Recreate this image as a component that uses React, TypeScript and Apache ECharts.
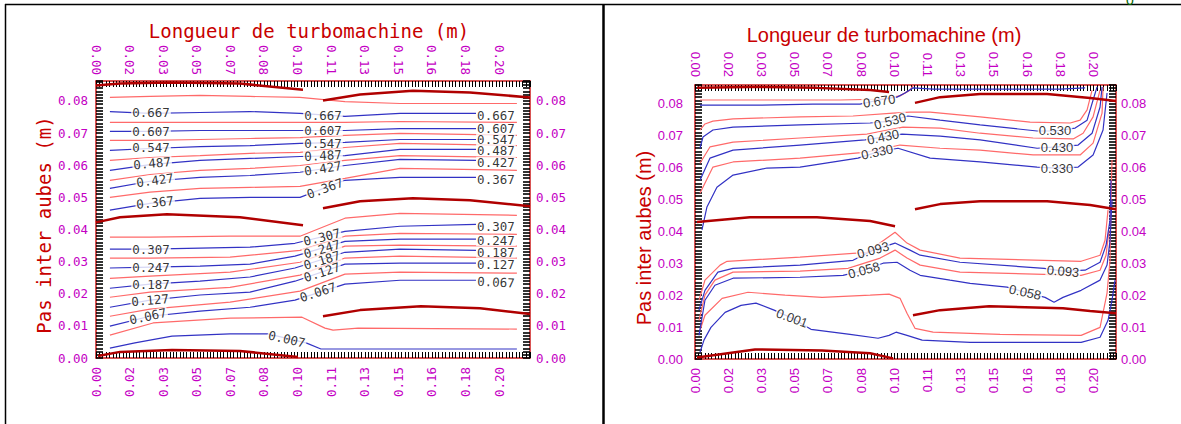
import React, { useEffect, useRef } from "react";
import * as echarts from "echarts";

// ---------- axes ----------
const X_TICK_LABELS = ["0.00", "0.02", "0.03", "0.05", "0.07", "0.08", "0.10", "0.11", "0.13", "0.15", "0.16", "0.18", "0.20"];
const Y_TICK_LABELS = ["0.00", "0.01", "0.02", "0.03", "0.04", "0.05", "0.06", "0.07", "0.08"];
const X_STEP = 1 / 60;
const Y_STEP = 0.01;
const LEFT_X_MAX = 0.2153;
const LEFT_Y_MAX = 0.0862;
const RIGHT_X_MAX = 0.2113;
const RIGHT_Y_MAX = 0.0858;

const TITLE_X = "Longueur de turbomachine (m)";
const TITLE_Y = "Pas inter aubes (m)";

// ---------- left panel : upper passage ----------
const L_UP_X_BLUE = [0.0069, 0.0268, 0.0516, 0.0764, 0.1012, 0.1235, 0.1508, 0.1885];
const L_B667 = [0.0767, 0.0761, 0.0764, 0.0767, 0.0761, 0.0752, 0.0761, 0.0761];
const L_B607 = [0.0705, 0.0705, 0.0708, 0.0708, 0.0708, 0.0708, 0.0714, 0.0714];
const L_B547 = [0.0646, 0.0652, 0.0658, 0.0661, 0.0668, 0.0671, 0.068, 0.068];
const L_B487 = [0.0584, 0.0602, 0.0615, 0.0621, 0.0627, 0.063, 0.0649, 0.0649];
const L_B427 = [0.0528, 0.055, 0.0562, 0.0568, 0.0578, 0.0599, 0.0618, 0.0615];
const L_B367 = [0.046, 0.0481, 0.0497, 0.05, 0.05, 0.0553, 0.0562, 0.0562];

const L_UP_X_RED = [0.0069, 0.0268, 0.0516, 0.0764, 0.1012, 0.1235, 0.1508, 0.2088];
const L_R1 = [0.0811, 0.0814, 0.0817, 0.0814, 0.0811, 0.0798, 0.0792, 0.0792];
const L_R2 = [0.0733, 0.0733, 0.0733, 0.0733, 0.0733, 0.0733, 0.0736, 0.0733];
const L_R3 = [0.0677, 0.0677, 0.068, 0.0683, 0.0686, 0.0693, 0.0699, 0.0693];
const L_R4 = [0.0615, 0.0624, 0.063, 0.0637, 0.064, 0.0655, 0.0668, 0.0661];
const L_R5 = [0.0553, 0.0571, 0.0584, 0.059, 0.0599, 0.0615, 0.063, 0.0624];
const L_R6 = [0.05, 0.0516, 0.0528, 0.0531, 0.0534, 0.0559, 0.059, 0.0584];

// ---------- left panel : lower passage ----------
const L_LO_X_BLUE = [0.0069, 0.0268, 0.0516, 0.0764, 0.0987, 0.1235, 0.1508, 0.1885];
const L_B307 = [0.0339, 0.0339, 0.0342, 0.0345, 0.0357, 0.0394, 0.041, 0.0416];
const L_B247 = [0.028, 0.0283, 0.0286, 0.0292, 0.0317, 0.0363, 0.037, 0.037];
const L_B187 = [0.0217, 0.023, 0.0239, 0.0252, 0.028, 0.0329, 0.0339, 0.0335];
const L_B127 = [0.0158, 0.018, 0.0196, 0.0205, 0.0239, 0.0292, 0.0295, 0.0295];
const L_B067 = [0.0099, 0.013, 0.0146, 0.0158, 0.018, 0.023, 0.0242, 0.0242];
const L_B007 = [[0.0069, 0.0031], [0.0193, 0.0047], [0.0377, 0.0068], [0.0665, 0.0075], [0.0853, 0.0075], [0.1042, 0.0047], [0.1116, 0.0028], [0.1235, 0.0028], [0.1508, 0.0028], [0.2088, 0.0028]];

const L_LO_X_RED = [0.0069, 0.0268, 0.0665, 0.1012, 0.1235, 0.1508, 0.2088];
const L_RA = [0.0376, 0.0376, 0.0379, 0.0379, 0.0435, 0.045, 0.0444];
const L_RB = [0.0311, 0.0311, 0.0314, 0.0335, 0.0379, 0.0388, 0.0385];
const L_RC = [0.0248, 0.0255, 0.0267, 0.0298, 0.0348, 0.0351, 0.0348];
const L_RD = [0.0189, 0.0205, 0.022, 0.0258, 0.0311, 0.0317, 0.0311];
const L_RE = [0.013, 0.0152, 0.0174, 0.0208, 0.0261, 0.0267, 0.0264];
const L_RF = [[0.0069, 0.0071], [0.0283, 0.0109], [0.0665, 0.0124], [0.1022, 0.0127], [0.1136, 0.0093], [0.1176, 0.0087], [0.13, 0.0093], [0.2088, 0.009]];

// ---------- left panel : blades ----------
const L_BL1_TOP = [[0, 0.0848], [0.0119, 0.0854], [0.0367, 0.0857], [0.0714, 0.0854], [0.1027, 0.0835]];
const L_BL1_MID = [[0, 0.0422], [0.0119, 0.0438], [0.0352, 0.0447], [0.0714, 0.0438], [0.1027, 0.0413]];
const L_BL1_BOT = [[0.001, 0.0006], [0.0119, 0.0019], [0.0377, 0.0025], [0.0714, 0.0022], [0.1002, 0.0003]];
const L_BL2_TOP = [[0.1126, 0.0801], [0.131, 0.082], [0.1572, 0.0832], [0.1855, 0.0826], [0.2153, 0.0811]];
const L_BL2_MID = [[0.1126, 0.0466], [0.131, 0.0488], [0.1572, 0.0497], [0.1855, 0.0491], [0.2153, 0.0472]];
const L_BL2_BOT = [[0.1126, 0.013], [0.131, 0.0149], [0.1612, 0.0161], [0.1905, 0.0155], [0.2153, 0.0137]];

// ---------- left panel : contour labels [text, x, y, rotation] ----------
const L_LABELS: [string, number, number, number][] = [
  ["0.667", 0.0273, 0.0764, 0], ["0.667", 0.1126, 0.0755, 0], ["0.667", 0.1984, 0.0755, 0],
  ["0.607", 0.0273, 0.0705, 0], ["0.607", 0.1126, 0.0708, 0], ["0.607", 0.1984, 0.0714, 0],
  ["0.547", 0.0273, 0.0655, 0], ["0.547", 0.1126, 0.0668, 0], ["0.547", 0.1984, 0.068, 0],
  ["0.487", 0.0278, 0.0606, 5], ["0.487", 0.1126, 0.063, 3], ["0.487", 0.1984, 0.0646, 0],
  ["0.427", 0.0293, 0.0553, 8], ["0.427", 0.1126, 0.059, 9], ["0.427", 0.1984, 0.0609, 0],
  ["0.367", 0.0293, 0.0484, 6], ["0.367", 0.1136, 0.0528, 20], ["0.367", 0.1984, 0.0556, 0],
  ["0.307", 0.0273, 0.0339, 0], ["0.307", 0.1121, 0.0376, 14], ["0.307", 0.1984, 0.041, 0],
  ["0.247", 0.0273, 0.0283, 0], ["0.247", 0.1121, 0.0339, 16], ["0.247", 0.1984, 0.0366, 0],
  ["0.187", 0.0273, 0.023, 0], ["0.187", 0.1121, 0.0304, 17], ["0.187", 0.1984, 0.0329, 0],
  ["0.127", 0.0268, 0.018, 5], ["0.127", 0.1121, 0.0267, 18], ["0.127", 0.1984, 0.0292, 0],
  ["0.067", 0.0258, 0.013, 12], ["0.067", 0.1101, 0.0205, 18], ["0.067", 0.1984, 0.0236, -3],
  ["0.007", 0.0947, 0.0059, -13],
];

// ---------- right panel : upper passage ----------
const R_RA = [[0.0025, 0.0811], [0.0326, 0.0811], [0.0728, 0.0811], [0.0929, 0.0814], [0.1029, 0.0824], [0.1079, 0.0842], [0.1094, 0.0855]];
const R_B670 = [[0.0025, 0.0795], [0.0326, 0.0795], [0.0592, 0.0798], [0.0828, 0.0798], [0.0924, 0.0811], [0.1014, 0.082], [0.1054, 0.0833], [0.1094, 0.0849], [0.1195, 0.0845], [0.1531, 0.0845], [0.1832, 0.0845], [0.1958, 0.0849]];
const R_RB = [[0.0025, 0.0717], [0.005, 0.0736], [0.009, 0.0745], [0.0191, 0.0752], [0.0527, 0.0758], [0.0793, 0.0761], [0.0994, 0.077], [0.1079, 0.0773], [0.118, 0.0773], [0.1431, 0.0758], [0.1682, 0.0742], [0.1883, 0.0739], [0.1933, 0.0748], [0.1968, 0.078], [0.1993, 0.0842]];
const R_B530 = [[0.0025, 0.066], [0.004, 0.0695], [0.009, 0.0717], [0.0191, 0.0726], [0.0527, 0.0733], [0.0879, 0.0739], [0.0979, 0.0745], [0.1069, 0.0761], [0.123, 0.0748], [0.1431, 0.0733], [0.1717, 0.0714], [0.1807, 0.0714], [0.1908, 0.0723], [0.1968, 0.0748], [0.1998, 0.0811], [0.2018, 0.0852]];
const R_RC = [[0.0025, 0.0613], [0.0075, 0.0664], [0.0191, 0.0679], [0.0527, 0.0692], [0.0863, 0.0704], [0.1044, 0.0726], [0.123, 0.0723], [0.1431, 0.0707], [0.1697, 0.0692], [0.1898, 0.0689], [0.1948, 0.0707], [0.1998, 0.0758], [0.2033, 0.0842]];
const R_B430 = [[0.0025, 0.056], [0.0075, 0.0629], [0.0191, 0.0654], [0.0527, 0.067], [0.0853, 0.0686], [0.0944, 0.0695], [0.1039, 0.0704], [0.123, 0.0698], [0.1431, 0.0686], [0.1717, 0.066], [0.1817, 0.0664], [0.1923, 0.067], [0.1993, 0.0707], [0.2033, 0.0789], [0.2043, 0.0852]];
const R_RD = [[0.0025, 0.0519], [0.009, 0.0601], [0.0191, 0.0617], [0.0527, 0.0629], [0.0863, 0.0648], [0.1029, 0.067], [0.123, 0.066], [0.1431, 0.0654], [0.1697, 0.0639], [0.1933, 0.0639], [0.1998, 0.0676], [0.2043, 0.077], [0.2048, 0.0852]];
const R_B330 = [[0.0035, 0.0404], [0.006, 0.0476], [0.011, 0.0538], [0.0191, 0.0576], [0.0361, 0.0598], [0.0527, 0.0601], [0.0818, 0.0629], [0.0914, 0.0648], [0.1019, 0.066], [0.118, 0.0629], [0.1431, 0.0617], [0.1717, 0.0601], [0.1817, 0.0598], [0.1923, 0.0601], [0.1998, 0.0639], [0.2048, 0.0717], [0.2068, 0.0833]];

// ---------- right panel : lower passage ----------
const R_B001 = [[0.0025, 0.0021], [0.0045, 0.0059], [0.008, 0.0099], [0.0151, 0.0146], [0.0231, 0.0168], [0.0306, 0.0175], [0.0397, 0.0153], [0.0487, 0.0128], [0.0582, 0.0093], [0.0778, 0.0077], [0.0919, 0.0065], [0.0974, 0.0074], [0.1009, 0.0084], [0.1064, 0.0074], [0.114, 0.0059], [0.1381, 0.0052], [0.1938, 0.0052], [0.2033, 0.0068], [0.2073, 0.0121], [0.2093, 0.0184], [0.2108, 0.0247]];
const R_RHUMP = [[0.0025, 0.009], [0.005, 0.0137], [0.0136, 0.019], [0.0266, 0.0209], [0.0452, 0.02], [0.0638, 0.0193], [0.0879, 0.02], [0.0974, 0.0203], [0.1029, 0.019], [0.1064, 0.0143], [0.1104, 0.0096], [0.1195, 0.0084], [0.1531, 0.0077], [0.1938, 0.0074], [0.2033, 0.0099], [0.2068, 0.0206], [0.2083, 0.0309], [0.2088, 0.0498], [0.2093, 0.0623]];
const R_B058 = [[0.002, 0.0074], [0.005, 0.0184], [0.01, 0.0231], [0.0191, 0.0253], [0.0527, 0.0256], [0.0743, 0.0262], [0.0848, 0.0278], [0.0944, 0.03], [0.1014, 0.0303], [0.1079, 0.0278], [0.113, 0.0262], [0.128, 0.0247], [0.1381, 0.0237], [0.1566, 0.0225], [0.1657, 0.0209], [0.1757, 0.0193], [0.1802, 0.0178], [0.1847, 0.0193], [0.1938, 0.0215], [0.2033, 0.0247], [0.2068, 0.0294], [0.2083, 0.0372], [0.2093, 0.0498]];
const R_RMID = [[0.002, 0.0121], [0.005, 0.02], [0.01, 0.0247], [0.0191, 0.0272], [0.0527, 0.0275], [0.0768, 0.0284], [0.0929, 0.0316], [0.1004, 0.0341], [0.1064, 0.0316], [0.113, 0.0294], [0.133, 0.0272], [0.1938, 0.0262], [0.2033, 0.0278], [0.2063, 0.0325], [0.2078, 0.0404]];
const R_B093 = [[0.002, 0.0153], [0.005, 0.0215], [0.0115, 0.0272], [0.0191, 0.0284], [0.0527, 0.0294], [0.0793, 0.0309], [0.0894, 0.0341], [0.1004, 0.0363], [0.1079, 0.0341], [0.113, 0.0325], [0.133, 0.0303], [0.1752, 0.0284], [0.1847, 0.0275], [0.1958, 0.0278], [0.2033, 0.0303], [0.2063, 0.0356], [0.2083, 0.0435], [0.2088, 0.056]];
const R_RTOP = [[0.002, 0.0184], [0.005, 0.0247], [0.0126, 0.0294], [0.0161, 0.0306], [0.0527, 0.0319], [0.0863, 0.0334], [0.1004, 0.0397], [0.1064, 0.0363], [0.113, 0.0341], [0.133, 0.0316], [0.1938, 0.0306], [0.2033, 0.0325], [0.2058, 0.0372], [0.2073, 0.0466]];

// ---------- right panel : blades ----------
const R_BL1_TOP = [[0.001, 0.0849], [0.0276, 0.0852], [0.0612, 0.0849], [0.0879, 0.0842], [0.0974, 0.0836]];
const R_BL1_MID = [[0.001, 0.0429], [0.0276, 0.0444], [0.0612, 0.0444], [0.0879, 0.0432], [0.1004, 0.0416]];
const R_BL1_BOT = [[0.001, 0.0005], [0.0301, 0.003], [0.0638, 0.0027], [0.0879, 0.0018], [0.0994, 0.0002]];
const R_BL2_TOP = [[0.1104, 0.0802], [0.123, 0.082], [0.1431, 0.083], [0.1767, 0.083], [0.1983, 0.0817], [0.2113, 0.0808]];
const R_BL2_MID = [[0.1104, 0.0469], [0.123, 0.0485], [0.1431, 0.0494], [0.1767, 0.0494], [0.1983, 0.0482], [0.2113, 0.0469]];
const R_BL2_BOT = [[0.1094, 0.0137], [0.123, 0.0153], [0.1476, 0.0165], [0.1847, 0.0159], [0.1983, 0.015], [0.2113, 0.0143]];

// ---------- right panel : contour labels ----------
const R_LABELS: [string, number, number, number][] = [
  ["0.670", 0.0924, 0.0808, 8],
  ["0.530", 0.0979, 0.0745, 15], ["0.530", 0.1807, 0.0714, 0],
  ["0.430", 0.0944, 0.0695, 12], ["0.430", 0.1817, 0.0662, 0],
  ["0.330", 0.0914, 0.0648, 12], ["0.330", 0.1817, 0.0598, 0],
  ["0.093", 0.0894, 0.0341, 15], ["0.093", 0.1847, 0.0275, -5],
  ["0.058", 0.0848, 0.0278, 15], ["0.058", 0.1657, 0.0209, -12],
  ["0.001", 0.0487, 0.0128, -20],
];

// ---------- styles ----------
const BLUE = "#3232c4";
const LIGHT_RED = "#ff6a6a";
const BLADE_RED = "#b00000";
const BORDER_RED = "#cc1a1a";
const MAGENTA = "#c400c4";
const TITLE_RED = "#c80000";
const LEFT_FONT = "'DejaVu Sans Mono', monospace";
const RIGHT_FONT = "'Liberation Sans', Arial, sans-serif";

const zip = (xs: number[], ys: number[]) => xs.map((x, i) => [x, ys[i]]);

function line(data: number[][], color: string, width: number, axis: number, z: number) {
  return {
    type: "line",
    data,
    xAxisIndex: axis,
    yAxisIndex: axis,
    symbol: "none",
    showSymbol: false,
    silent: true,
    clip: true,
    z,
    lineStyle: { color, width },
  };
}

function labels(items: [string, number, number, number][], axis: number, font: string, size: number) {
  return {
    type: "scatter",
    xAxisIndex: axis,
    yAxisIndex: axis,
    symbolSize: 1,
    silent: true,
    z: 10,
    itemStyle: { color: "rgba(0,0,0,0)" },
    data: items.map(([t, x, y, r]) => ({ name: t, value: [x, y], label: { rotate: r } })),
    label: {
      show: true,
      position: "inside",
      formatter: "{b}",
      color: "#000",
      fontFamily: font,
      fontSize: size,
      lineHeight: 11,
      backgroundColor: "#fff",
      padding: [0, 1],
    },
  };
}

function xAxis(gridIndex: number, position: string, max: number, font: string, size: number, margin: number) {
  return {
    type: "value",
    gridIndex,
    position,
    min: 0,
    max,
    interval: X_STEP,
    axisLine: { show: true, onZero: false, lineStyle: { color: BORDER_RED, width: 1.5 } },
    axisTick: { show: true, inside: true, length: 6, lineStyle: { color: "#000", width: 1 } },
    minorTick: { show: true, splitNumber: 10, length: 6, lineStyle: { color: "#000", width: 1 } },
    splitLine: { show: false },
    minorSplitLine: { show: false },
    axisLabel: {
      show: true,
      rotate: 90,
      margin,
      color: MAGENTA,
      fontFamily: font,
      fontSize: size,
      formatter: (_v: number, i: number) => X_TICK_LABELS[i] ?? "",
    },
  };
}

function yAxis(gridIndex: number, position: string, max: number, font: string, size: number, margin: number) {
  return {
    type: "value",
    gridIndex,
    position,
    min: 0,
    max,
    interval: Y_STEP,
    axisLine: { show: true, onZero: false, lineStyle: { color: BORDER_RED, width: 1.5 } },
    axisTick: { show: true, inside: true, length: 7, lineStyle: { color: "#000", width: 1.6 } },
    minorTick: { show: true, splitNumber: 10, length: 7, lineStyle: { color: "#000", width: 1.6 } },
    splitLine: { show: false },
    minorSplitLine: { show: false },
    axisLabel: {
      show: true,
      margin,
      color: MAGENTA,
      fontFamily: font,
      fontSize: size,
      formatter: (_v: number, i: number) => Y_TICK_LABELS[i] ?? "",
    },
  };
}

function buildOption() {
  const series: any[] = [];
  // left panel
  [L_R1, L_R2, L_R3, L_R4, L_R5, L_R6].forEach((ys) => series.push(line(zip(L_UP_X_RED, ys), LIGHT_RED, 1.2, 0, 2)));
  [L_RA, L_RB, L_RC, L_RD, L_RE].forEach((ys) => series.push(line(zip(L_LO_X_RED, ys), LIGHT_RED, 1.2, 0, 2)));
  series.push(line(L_RF, LIGHT_RED, 1.2, 0, 2));
  [L_B667, L_B607, L_B547, L_B487, L_B427, L_B367].forEach((ys) => series.push(line(zip(L_UP_X_BLUE, ys), BLUE, 1.2, 0, 3)));
  [L_B307, L_B247, L_B187, L_B127, L_B067].forEach((ys) => series.push(line(zip(L_LO_X_BLUE, ys), BLUE, 1.2, 0, 3)));
  series.push(line(L_B007, BLUE, 1.2, 0, 3));
  [L_BL1_TOP, L_BL1_MID, L_BL1_BOT, L_BL2_TOP, L_BL2_MID, L_BL2_BOT].forEach((d) => series.push(line(d, BLADE_RED, 2.5, 0, 4)));
  series.push(labels(L_LABELS, 0, LEFT_FONT, 12.5));
  // right panel
  [R_RA, R_RB, R_RC, R_RD, R_RHUMP, R_RMID, R_RTOP].forEach((d) => series.push(line(d, LIGHT_RED, 1.2, 2, 2)));
  [R_B670, R_B530, R_B430, R_B330, R_B001, R_B058, R_B093].forEach((d) => series.push(line(d, BLUE, 1.2, 2, 3)));
  [R_BL1_TOP, R_BL1_MID, R_BL1_BOT, R_BL2_TOP, R_BL2_MID, R_BL2_BOT].forEach((d) => series.push(line(d, BLADE_RED, 2.5, 2, 4)));
  series.push(labels(R_LABELS, 2, RIGHT_FONT, 13));

  return {
    animation: false,
    backgroundColor: "#fff",
    grid: [
      { left: 96, top: 81, width: 434, height: 277 },
      { left: 695, top: 85, width: 421, height: 274 },
    ],
    xAxis: [
      xAxis(0, "bottom", LEFT_X_MAX, LEFT_FONT, 12.5, 9),
      xAxis(0, "top", LEFT_X_MAX, LEFT_FONT, 12.5, 6),
      xAxis(1, "bottom", RIGHT_X_MAX, RIGHT_FONT, 13, 9),
      xAxis(1, "top", RIGHT_X_MAX, RIGHT_FONT, 13, 8),
    ],
    yAxis: [
      yAxis(0, "left", LEFT_Y_MAX, LEFT_FONT, 12.5, 8),
      yAxis(0, "right", LEFT_Y_MAX, LEFT_FONT, 12.5, 6),
      yAxis(1, "left", RIGHT_Y_MAX, RIGHT_FONT, 13, 12),
      yAxis(1, "right", RIGHT_Y_MAX, RIGHT_FONT, 13, 5),
    ],
    graphic: [
      { type: "line", shape: { x1: 5, y1: 4.5, x2: 1181, y2: 4.5 }, style: { stroke: "#000", lineWidth: 1.5 } },
      { type: "line", shape: { x1: 5.5, y1: 4, x2: 5.5, y2: 424 }, style: { stroke: "#000", lineWidth: 1.5 } },
      { type: "line", shape: { x1: 603.5, y1: 4, x2: 603.5, y2: 424 }, style: { stroke: "#000", lineWidth: 2.5 } },
      { type: "text", x: 1130, y: 7, style: { text: "0", fill: "#006400", fontSize: 14, fontFamily: RIGHT_FONT, align: "center", verticalAlign: "bottom" } },
      { type: "text", x: 309, y: 31, style: { text: TITLE_X, fill: TITLE_RED, fontSize: 19, fontFamily: LEFT_FONT, align: "center", verticalAlign: "middle" } },
      { type: "text", x: 884, y: 35, style: { text: TITLE_X, fill: TITLE_RED, fontSize: 20, fontFamily: RIGHT_FONT, align: "center", verticalAlign: "middle" } },
      { type: "text", x: 44, y: 225, rotation: Math.PI / 2, style: { text: TITLE_Y, fill: TITLE_RED, fontSize: 19, fontFamily: LEFT_FONT, align: "center", verticalAlign: "middle" } },
      { type: "text", x: 644, y: 238, rotation: Math.PI / 2, style: { text: TITLE_Y, fill: TITLE_RED, fontSize: 20, fontFamily: RIGHT_FONT, align: "center", verticalAlign: "middle" } },
    ],
    series,
  };
}

export default function App() {
  const ref = useRef<HTMLDivElement>(null);
  useEffect(() => {
    if (!ref.current) return;
    const chart = echarts.init(ref.current, undefined, { renderer: "svg" });
    chart.setOption(buildOption() as any);
    return () => chart.dispose();
  }, []);
  return (
    <div
      ref={ref}
      style={{ position: "fixed", left: 0, top: 0, width: 1181, height: 424, background: "#fff" }}
    />
  );
}
